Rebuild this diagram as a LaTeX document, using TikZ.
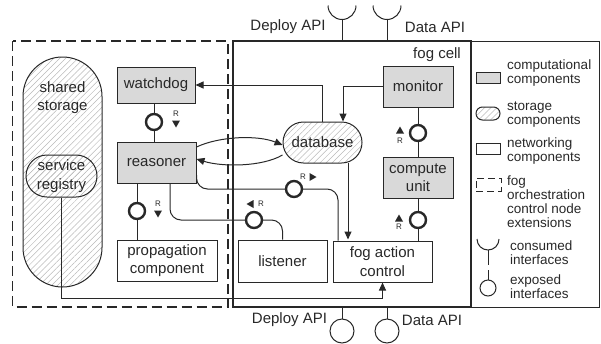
\documentclass[tikz,border=0pt]{standalone}
\usepackage{fontspec}
\setmainfont{Liberation Sans}
\usetikzlibrary{arrows.meta,patterns.meta,calc}
\definecolor{compgray}{RGB}{217,217,217}
\definecolor{ink}{RGB}{40,40,40}
\definecolor{hatch}{RGB}{185,185,185}
\begin{document}
\begin{tikzpicture}[x=1pt,y=-1pt,
  every node/.style={text=ink},
  lbl/.style={font=\fontsize{15}{18.5}\selectfont, align=center, inner sep=0pt},
  comp/.style={lbl, draw=ink, line width=1pt, fill=compgray},
  net/.style={lbl, draw=ink, line width=1pt, fill=white},
  stor/.style={lbl, draw=ink, line width=1pt, pattern={Lines[angle=45,distance=4.3pt,line width=0.5pt]}, pattern color=hatch},
  iface/.style={circle, draw=ink, line width=2.4pt, fill=white, minimum size=16pt, inner sep=0pt},
  conn/.style={draw=ink, line width=1pt},
  arr/.style={conn, -{Triangle[length=8pt,width=7pt]}},
  rl/.style={font=\fontsize{8}{8}\selectfont, inner sep=0pt},
  legtxt/.style={font=\fontsize{13.5}{14}\selectfont, align=left, anchor=west, inner sep=0pt},
  apitxt/.style={font=\fontsize{15}{18}\selectfont, inner sep=0pt}
]
\useasboundingbox (0,0) rectangle (601,343);

% frames
\draw[ink, line width=1.2pt, dash pattern=on 10pt off 5pt] (12.5,41) rectangle (228,307);
\draw[ink, line width=1pt] (471,41) rectangle (599,307);
\draw[ink, line width=1.8pt] (233,41) rectangle (471,307);
\node[lbl] (fogcell) at (437,55) {fog cell};

% storage
\node[stor, rounded corners=39.5pt, minimum width=79pt, minimum height=230pt] (shared) at (62.5,172) {};
\node[lbl] (sharedlbl) at (62.5,97.5) {shared\\storage};
\node[stor, rounded corners=21pt, minimum width=71pt, minimum height=42pt] (registry) at (61.5,176) {service\\registry};
\node[stor, rounded corners=20.5pt, minimum width=79pt, minimum height=41pt] (database) at (322.5,142.5) {database};

% computational
\node[comp, minimum width=78pt, minimum height=36pt] (watchdog) at (156,85) {watchdog};
\node[comp, minimum width=79pt, minimum height=41pt] (reasoner) at (156.5,162.5) {reasoner};
\node[comp, minimum width=70pt, minimum height=41pt] (monitor) at (418,86.5) {monitor};
\node[comp, minimum width=70pt, minimum height=41pt] (compute) at (418,177.5) {compute\\unit};

% networking
\node[net, minimum width=100pt, minimum height=41pt] (propagation) at (167,260.5) {propagation\\component};
\node[net, minimum width=89pt, minimum height=42pt] (listener) at (282.5,261) {listener};
\node[net, minimum width=99pt, minimum height=41pt] (fac) at (382.5,261.5) {fog action\\control};

% interface coordinates
\coordinate (c1) at (154,122);
\coordinate (c2) at (137,211);
\coordinate (c3) at (294,189);
\coordinate (c4) at (254,220);
\coordinate (c5) at (418,133);
\coordinate (c6) at (418,220);

% connectors
\draw[arr] (database.north) |- (watchdog.east);
\draw[arr] (monitor.west) -| ([xshift=20.5pt]database.north);
\draw[arr] ([xshift=25.5pt,yshift=1pt]database.south) -- ([xshift=25.5pt,yshift=1pt]database.south |- fac.north);
\draw[arr] ([yshift=15.5pt]reasoner.east) .. controls (220,136) and (258,135) .. ([yshift=-2.5pt]database.west);
\draw[arr] ([yshift=-12.5pt]database.west) .. controls (262,167) and (222,167) .. ([yshift=3.5pt]reasoner.east);
\draw[arr] (registry.south) -- ++(0,101) -| (fac.south);
\draw[conn] (c1 |- watchdog.south) -- (c1 |- reasoner.north);
\draw[conn] (c2 |- reasoner.south) -- (c2 |- propagation.north);
\draw[conn, rounded corners=11pt] ([yshift=-12.5pt]reasoner.east) |- (c3) -| ([xshift=-44.5pt]fac.north);
\draw[conn, rounded corners=11pt] ([xshift=13.5pt]reasoner.south) |- (c4) -| (listener.north);
\draw[conn] (monitor.south) -- (compute.north);
\draw[conn] (compute.south) -- (compute.south |- fac.north);

% interfaces
\node[iface] (i1) at (c1) {};
\node[iface] (i2) at (c2) {};
\node[iface] (i3) at (c3) {};
\node[iface] (i4) at (c4) {};
\node[iface] (i5) at (c5) {};
\node[iface] (i6) at (c6) {};

% R labels and direction triangles
\node[rl] (r1) at (176,114) {R};
\fill[ink] (172,120.5) -- (180,120.5) -- (176,127.5) -- cycle;
\node[rl] (r2) at (158,204) {R};
\fill[ink] (154,210.5) -- (162,210.5) -- (158,217.5) -- cycle;
\node[rl] (r3) at (303,177) {R};
\fill[ink] (309.5,173) -- (309.5,181) -- (316.5,177) -- cycle;
\node[rl] (r4) at (261,204) {R};
\fill[ink] (253.5,200) -- (253.5,208) -- (246.5,204) -- cycle;
\node[rl] (r5) at (400,141) {R};
\fill[ink] (396,133.5) -- (404,133.5) -- (400,126.5) -- cycle;
\node[rl] (r6) at (399,227) {R};
\fill[ink] (395,221.5) -- (403,221.5) -- (399,214.5) -- cycle;

% external APIs (top: consumed)
\coordinate (dtop) at (342,41);
\coordinate (atop) at (387,41);
\draw[conn] (dtop) -- ++(0,-21.5);
\draw[conn] (atop) -- ++(0,-21.5);
\draw[conn] (328,5.5) .. controls (328,13.2) and (334.3,19.5) .. (342,19.5) .. controls (349.7,19.5) and (356,13.2) .. (356,5.5);
\draw[conn] (373,5.5) .. controls (373,13.2) and (379.3,19.5) .. (387,19.5) .. controls (394.7,19.5) and (401,13.2) .. (401,5.5);
\node[apitxt] (deploytop) at (288,27) {Deploy API};
\node[apitxt] (datatop) at (435,27) {Data API};

% external APIs (bottom: exposed)
\node[circle, draw=ink, line width=1pt, minimum size=24pt, inner sep=0pt] (dbot) at (342,331) {};
\node[circle, draw=ink, line width=1pt, minimum size=24pt, inner sep=0pt] (abot) at (387,331) {};
\draw[conn] (dbot.north |- 0,307) -- (dbot.north);
\draw[conn] (abot.north |- 0,307) -- (abot.north);
\node[apitxt] (deploybot) at (289.5,320) {Deploy API};
\node[apitxt] (databot) at (432,320) {Data API};

% legend
\node[draw=ink, line width=1pt, fill=compgray, minimum width=24pt, minimum height=11pt, inner sep=0pt] (lg1) at (488,77.5) {};
\node[legtxt] (lt1) at (507,73.5) {computational\\components};
\node[draw=ink, line width=1pt, rounded corners=6.5pt, minimum width=24pt, minimum height=13pt, inner sep=0pt, pattern={Lines[angle=45,distance=4.3pt,line width=0.5pt]}, pattern color=hatch] (lg2) at (488,113.5) {};
\node[legtxt] (lt2) at (507,114.5) {storage\\components};
\node[draw=ink, line width=1pt, minimum width=24pt, minimum height=11pt, inner sep=0pt] (lg3) at (488,148.5) {};
\node[legtxt] (lt3) at (507,151.5) {networking\\components};
\node[draw=ink, line width=1pt, dash pattern=on 7pt off 4pt, minimum width=25pt, minimum height=13pt, inner sep=0pt] (lg4) at (488.5,184.5) {};
\node[legtxt] (lt4) at (507,201.5) {fog\\orchestration\\control node\\extensions};
\draw[conn] (477,239) .. controls (477,245.1) and (481.9,250) .. (488,250) .. controls (494.1,250) and (499,245.1) .. (499,239);
\coordinate (lg5) at (488,250);
\draw[conn] (lg5) -- ++(0,15);
\node[legtxt] (lt5) at (510,253) {consumed\\interfaces};
\node[circle, draw=ink, line width=1pt, minimum size=16pt, inner sep=0pt] (lg6) at (488,288) {};
\draw[conn] (lg6.north) -- ++(0,-10);
\node[legtxt] (lt6) at (510,287) {exposed\\interfaces};
\end{tikzpicture}
\end{document}
